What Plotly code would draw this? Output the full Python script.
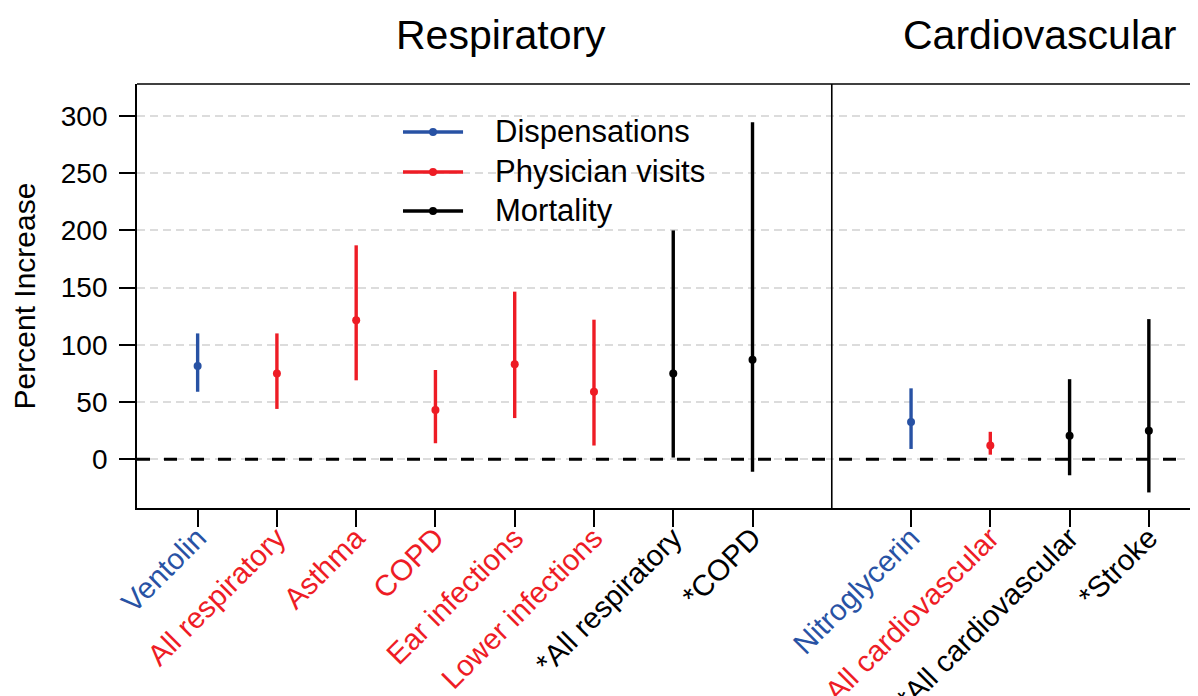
import plotly.graph_objects as go

# ---- data ----
resp_categories = ["Ventolin", "All respiratory", "Asthma", "COPD", "Ear infections",
                   "Lower infections", "*All respiratory", "*COPD"]
resp_types = ["Dispensations", "Physician visits", "Physician visits", "Physician visits",
              "Physician visits", "Physician visits", "Mortality", "Mortality"]
resp_est = [81.5, 75, 121.5, 43, 83, 59, 75, 87]
resp_lo = [59, 44, 69, 14, 36, 12, 1.5, -11]
resp_hi = [110, 110, 187, 78, 146.5, 122, 200, 294.5]

cardio_categories = ["Nitroglycerin", "All cardiovascular", "*All cardiovascular", "*Stroke"]
cardio_types = ["Dispensations", "Physician visits", "Mortality", "Mortality"]
cardio_est = [32.5, 12, 20.5, 25]
cardio_lo = [9, 4, -14, -29]
cardio_hi = [62, 24, 70, 122.5]

series_names = ["Dispensations", "Physician visits", "Mortality"]
panel_titles = ["Respiratory", "Cardiovascular"]
y_ticks = [0, 50, 100, 150, 200, 250, 300]

colors = {"Dispensations": "#2852A4", "Physician visits": "#EE1C25", "Mortality": "#000000"}
FONT = "Liberation Sans, Arial, sans-serif"

categories = resp_categories + cardio_categories
types = resp_types + cardio_types
est = resp_est + cardio_est
lo = resp_lo + cardio_lo
hi = resp_hi + cardio_hi
xpos = list(range(1, len(resp_categories) + 1)) + \
       list(range(len(resp_categories) + 2, len(resp_categories) + 2 + len(cardio_categories)))
divider_x = len(resp_categories) + 1

fig = go.Figure()
for s in series_names:
    idx = [i for i, t in enumerate(types) if t == s]
    fig.add_trace(go.Scatter(
        x=[xpos[i] for i in idx], y=[est[i] for i in idx], mode="markers",
        marker=dict(color=colors[s], size=8),
        error_y=dict(type="data", symmetric=False,
                     array=[hi[i] - est[i] for i in idx],
                     arrayminus=[est[i] - lo[i] for i in idx],
                     color=colors[s], thickness=3.4, width=0),
        showlegend=False, name=s, hoverinfo="skip"))

ticktext = ['<span style="color:%s">%s</span>' % (colors[t], c) for c, t in zip(categories, types)]

shapes = []
# zero reference line
shapes.append(dict(type="line", xref="paper", yref="y", x0=0, x1=1, y0=0, y1=0,
                   line=dict(color="black", width=3, dash="13px,14px"), layer="above"))
# divider
shapes.append(dict(type="line", xref="x", yref="paper", x0=divider_x, x1=divider_x, y0=0, y1=1,
                   line=dict(color="black", width=1.6)))
# top border
shapes.append(dict(type="line", xref="paper", yref="paper", x0=0, x1=1, y0=1, y1=1,
                   line=dict(color="black", width=1.6)))

# manual legend
annotations = []
leg_y = [0.8868, 0.7925, 0.7005]
for s, yy in zip(series_names, leg_y):
    shapes.append(dict(type="line", xref="paper", yref="paper", x0=0.2507, x1=0.3073, y0=yy, y1=yy,
                       line=dict(color=colors[s], width=3.4)))
    shapes.append(dict(type="circle", xref="paper", yref="paper", xsizemode="pixel", ysizemode="pixel",
                       xanchor=0.279, yanchor=yy, x0=-4, x1=4, y0=-4, y1=4,
                       fillcolor=colors[s], line=dict(color=colors[s], width=0)))
    annotations.append(dict(xref="paper", yref="paper", x=0.3355, y=yy, text=s, showarrow=False,
                            xanchor="left", yanchor="middle", font=dict(size=31, color="black", family=FONT)))

for t, xx in zip(panel_titles, [0.343, 0.851]):
    annotations.append(dict(xref="paper", yref="paper", x=xx, y=1.1155, text=t, showarrow=False,
                            xanchor="center", yanchor="middle", font=dict(size=41, color="black", family=FONT)))

# the page body adds an 8px margin, so the figure sits 8px right and down
fig.update_layout(
    width=1198, height=696,
    margin=dict(l=129, r=8, t=76, b=196),
    paper_bgcolor="white", plot_bgcolor="white",
    font=dict(family=FONT, color="black"),
    shapes=shapes, annotations=annotations,
    xaxis=dict(range=[0.235, 13.62], tickmode="array", tickvals=xpos, ticktext=ticktext,
               tickangle=-45, ticks="outside", ticklen=17, tickwidth=1.6, tickcolor="black",
               tickfont=dict(size=29.5, family=FONT), ticklabelstandoff=-18,
               showgrid=False, zeroline=False,
               showline=True, linecolor="black", linewidth=1.8, automargin=False),
    yaxis=dict(range=[-42.6, 328], tickmode="array", tickvals=y_ticks,
               ticks="outside", ticklen=16, tickwidth=1.6, tickcolor="black",
               tickfont=dict(size=28, family=FONT), ticklabelstandoff=6,
               showgrid=True, gridcolor="#DCDCDC", gridwidth=1.6, griddash="8px,5px",
               zeroline=False, showline=True, linecolor="black", linewidth=1.8, automargin=False,
               title=dict(text="Percent Increase", font=dict(size=30, family=FONT), standoff=18)),
)

fig.write_html("out.html")
